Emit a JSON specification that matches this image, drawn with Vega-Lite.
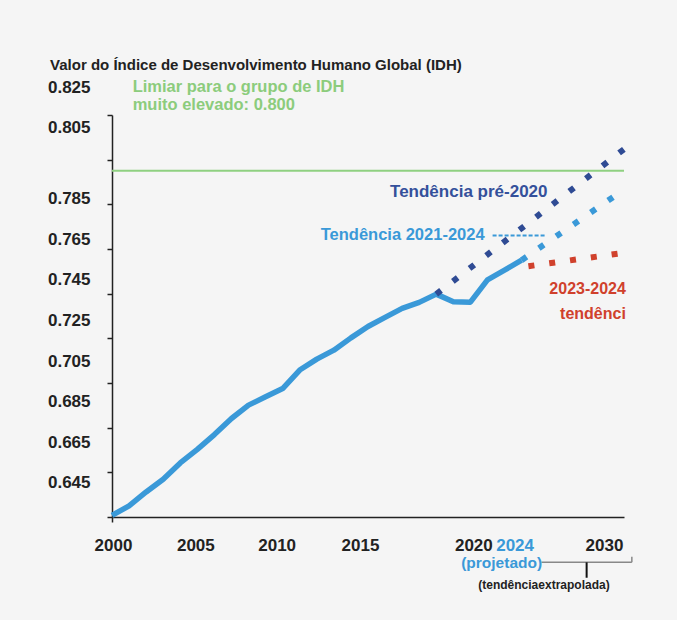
{
  "$schema": "https://vega.github.io/schema/vega-lite/v6.json",
  "width": 512,
  "height": 402,
  "autosize": {"type": "none"},
  "padding": {"left": 112, "top": 115, "right": 53, "bottom": 103},
  "background": "#f5f5f5",
  "config": {"view": {"stroke": null}, "font": "Liberation Sans"},
  "datasets": {
    "idh": [
      {"year": 2000, "value": 0.6457},
      {"year": 2001, "value": 0.6500},
      {"year": 2002, "value": 0.6562},
      {"year": 2003, "value": 0.6619},
      {"year": 2004, "value": 0.6692},
      {"year": 2005, "value": 0.6753},
      {"year": 2006, "value": 0.6819},
      {"year": 2007, "value": 0.6891},
      {"year": 2008, "value": 0.6951},
      {"year": 2009, "value": 0.6988},
      {"year": 2010, "value": 0.7025},
      {"year": 2011, "value": 0.7108},
      {"year": 2012, "value": 0.7157},
      {"year": 2013, "value": 0.7197},
      {"year": 2014, "value": 0.7252},
      {"year": 2015, "value": 0.7303},
      {"year": 2016, "value": 0.7344},
      {"year": 2017, "value": 0.7384},
      {"year": 2018, "value": 0.7411},
      {"year": 2019, "value": 0.7448},
      {"year": 2020, "value": 0.7414},
      {"year": 2021, "value": 0.7412},
      {"year": 2022, "value": 0.7512},
      {"year": 2023, "value": 0.7555},
      {"year": 2024, "value": 0.7600}
    ],
    "trend": [
      {"series": "pre2020", "year": 2019, "value": 0.7448},
      {"series": "pre2020", "year": 2030, "value": 0.8097},
      {"series": "t2124", "year": 2024, "value": 0.7600},
      {"series": "t2124", "year": 2030, "value": 0.7916},
      {"series": "t2324", "year": 2024.4, "value": 0.7573},
      {"series": "t2324", "year": 2030, "value": 0.7633}
    ]
  },
  "encoding": {
    "x": {
      "field": "year",
      "type": "quantitative",
      "scale": {"domain": [2000, 2030], "nice": false, "zero": false},
      "axis": {
        "values": [2000, 2005, 2010, 2015, 2020, 2024, 2030],
        "format": "d",
        "title": null,
        "grid": false,
        "domainColor": "#222222",
        "domainWidth": 1.5,
        "tickColor": "#222222",
        "tickWidth": 1.5,
        "tickSize": 5,
        "tickOpacity": {"condition": {"test": "datum.value == 2000", "value": 1}, "value": 0},
        "labelFont": "Liberation Sans",
        "labelFontSize": 17,
        "labelFontWeight": "bold",
        "labelColor": {"condition": {"test": "datum.value == 2024", "value": "#3a99d8"}, "value": "#222222"},
        "labelPadding": 15,
        "labelOffset": {"expr": "datum.value == 2030 ? -20 : (datum.value == 2024 ? -7 : (datum.value == 2020 ? 20 : (datum.value == 2015 ? -8 : (datum.value == 2010 ? -6 : (datum.value == 2005 ? -2 : 1)))))"},
        "labelOverlap": false,
        "labelFlush": false,
        "labelBound": false
      }
    },
    "y": {
      "field": "value",
      "type": "quantitative",
      "scale": {"domain": [0.645, 0.825], "nice": false, "zero": false},
      "axis": {
        "values": [0.645, 0.665, 0.685, 0.705, 0.725, 0.745, 0.765, 0.785, 0.805, 0.825],
        "format": ".3f",
        "title": null,
        "grid": false,
        "domainColor": "#222222",
        "domainWidth": 1.5,
        "tickColor": "#222222",
        "tickWidth": 1.5,
        "tickSize": 5,
        "labelFont": "Liberation Sans",
        "labelFontSize": 17,
        "labelFontWeight": "bold",
        "labelColor": "#222222",
        "labelPadding": 17,
        "labelOffset": {"expr": "datum.value > 0.815 ? -28 : (datum.value > 0.795 ? -32 : -5.5 - (0.785 - datum.value) * 205)"},
        "labelOverlap": false,
        "labelBound": false
      }
    }
  },
  "layer": [
    {
      "data": {"values": [{"year": 2000, "year2": 2030, "value": 0.8}]},
      "mark": {"type": "rule", "color": "#8fd081", "strokeWidth": 2},
      "encoding": {"x2": {"field": "year2"}}
    },
    {
      "data": {"name": "idh"},
      "mark": {"type": "line", "color": "#3a99d8", "strokeWidth": 5.5, "strokeJoin": "round"}
    },
    {
      "data": {"name": "trend"},
      "mark": {"type": "line", "strokeWidth": 6, "strokeDash": [6, 15], "strokeCap": "butt"},
      "encoding": {
        "color": {
          "field": "series",
          "type": "nominal",
          "scale": {"domain": ["pre2020", "t2124", "t2324"], "range": ["#2f4b94", "#3a99d8", "#d0412c"]},
          "legend": null
        }
      }
    },
    {
      "data": {"values": [{"year": 2022.3, "year2": 2025.37, "value": 0.7710}]},
      "mark": {"type": "rule", "color": "#3a99d8", "strokeWidth": 2, "strokeDash": [4, 2]},
      "encoding": {"x2": {"field": "year2"}}
    },
    {
      "data": {"values": [
        {"year": 2025.17, "year2": 2030.46, "value": 0.6247, "value2": 0.6247},
        {"year": 2030.46, "year2": 2030.46, "value": 0.6247, "value2": 0.62722}
      ]},
      "mark": {"type": "rule", "color": "#888888", "strokeWidth": 1.5},
      "encoding": {"x2": {"field": "year2"}, "y2": {"field": "value2"}}
    },
    {
      "data": {"values": [{"year": 2027.81, "year2": 2027.81, "value": 0.6247, "value2": 0.6178}]},
      "mark": {"type": "rule", "color": "#111111", "strokeWidth": 2},
      "encoding": {"x2": {"field": "year2"}, "y2": {"field": "value2"}}
    },
    {
      "data": {"values": [{"label": "Valor do Índice de Desenvolvimento Humano Global (IDH)", "year": 1996.37, "value": 0.84739}]},
      "mark": {"type": "text", "align": "left", "baseline": "middle", "font": "Liberation Sans", "fontSize": 15, "fontWeight": "bold", "color": "#222222"},
      "encoding": {"text": {"field": "label"}}
    },
    {
      "data": {"values": [
        {"label": "Limiar para o grupo de IDH", "year": 2001.21, "value": 0.8375},
        {"label": "muito elevado: 0.800", "year": 2001.21, "value": 0.8295}
      ]},
      "mark": {"type": "text", "align": "left", "baseline": "middle", "font": "Liberation Sans", "fontSize": 16.5, "fontWeight": "bold", "color": "#8ccc7c"},
      "encoding": {"text": {"field": "label"}}
    },
    {
      "data": {"values": [{"label": "Tendência pré-2020", "year": 2016.29, "value": 0.79052}]},
      "mark": {"type": "text", "align": "left", "baseline": "middle", "font": "Liberation Sans", "fontSize": 17, "fontWeight": "bold", "color": "#34509b"},
      "encoding": {"text": {"field": "label"}}
    },
    {
      "data": {"values": [{"label": "Tendência 2021-2024", "year": 2012.23, "value": 0.77127}]},
      "mark": {"type": "text", "align": "left", "baseline": "middle", "font": "Liberation Sans", "fontSize": 16.5, "fontWeight": "bold", "color": "#3a99d8"},
      "encoding": {"text": {"field": "label"}}
    },
    {
      "data": {"values": [
        {"label": "2023-2024", "year": 2030.11, "value": 0.74731},
        {"label": "tendênci", "year": 2030.11, "value": 0.73611}
      ]},
      "mark": {"type": "text", "align": "right", "baseline": "middle", "font": "Liberation Sans", "fontSize": 16, "fontWeight": "bold", "color": "#d0412c"},
      "encoding": {"text": {"field": "label"}}
    },
    {
      "data": {"values": [{"label": "(projetado)", "year": 2022.83, "value": 0.62439}]},
      "mark": {"type": "text", "align": "center", "baseline": "middle", "font": "Liberation Sans", "fontSize": 15.5, "fontWeight": "bold", "color": "#3a99d8"},
      "encoding": {"text": {"field": "label"}}
    },
    {
      "data": {"values": [{"label": "(tendênciaextrapolada)", "year": 2025.31, "value": 0.61454}]},
      "mark": {"type": "text", "align": "center", "baseline": "middle", "font": "Liberation Sans", "fontSize": 12, "fontWeight": "bold", "color": "#222222"},
      "encoding": {"text": {"field": "label"}}
    }
  ]
}
